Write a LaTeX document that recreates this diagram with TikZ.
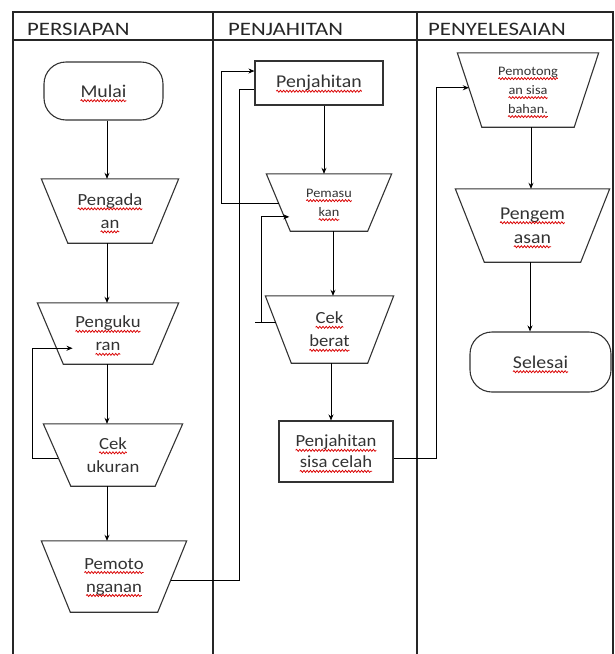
\documentclass[tikz,border=0pt]{standalone}
\usepackage{fontspec}
\setmainfont{Carlito}[FakeStretch=1.1]
\newfontfamily\hdrfont{Carlito}[FakeStretch=1.2]
\usetikzlibrary{calc,arrows.meta,decorations.pathmorphing}
\newsavebox\wvbox
\newcommand\wv[1]{\sbox\wvbox{#1}\tikz[baseline=(wvT.base),x=1pt,y=1pt,sharp corners]{\node[shape=rectangle,inner sep=0pt,outer sep=0pt,minimum width=0pt,minimum height=0pt,draw=none,fill=none,anchor=center] (wvT) {\usebox\wvbox};
  \draw[overlay, red!85!black, line width=0.75pt, sharp corners, decorate, decoration={snake,amplitude=1pt,segment length=3.2pt}] ([yshift=-3.5pt]wvT.base west) -- ([yshift=-3.5pt]wvT.base east);}}
\tikzset{
  lane/.style={line width=1.1pt, draw=black!85},
  hdr/.style={anchor=base west, font=\hdrfont\fontsize{19}{22}\selectfont, text=black!85, inner sep=0},
  box/.style={inner sep=0, align=center, font=\fontsize{17}{23}\selectfont, text=black!80},
  bigbox/.style={font=\fontsize{18}{24}\selectfont},
  smallbox/.style={font=\fontsize{13}{19}\selectfont},
  shp/.style={draw=black!80, line width=1.1pt},
  arr/.style={draw=black, line width=0.9pt, -{Stealth[length=6pt,width=5pt]}},
  ln/.style={draw=black, line width=0.9pt},
}
% #1 name, #2 x, #3 y, #4 top width, #5 bottom width, #6 height, #7 extra style, #8 text
\newcommand\trapnode[8]{%
  \node[box,#7,minimum width=#4pt,minimum height=#6pt] (#1) at (#2,#3) {#8};
  \coordinate (#1-tl) at (#1.north west);
  \coordinate (#1-tr) at (#1.north east);
  \coordinate (#1-bl) at ([xshift={(#4-#5)/2*1pt}]#1.south west);
  \coordinate (#1-br) at ([xshift={-(#4-#5)/2*1pt}]#1.south east);
  \draw[shp] (#1-tl) -- (#1-tr) -- (#1-br) -- (#1-bl) -- cycle;
}
\begin{document}
\begin{tikzpicture}[x=1pt,y=-1pt]
\useasboundingbox (0,0) rectangle (615,654);
% swimlane frame
\draw[lane] (13,654) -- (13,12) -- (613,12) -- (613,654);
\draw[lane] (13,40) -- (613,40);
\draw[lane] (213,12) -- (213,654);
\draw[lane] (417,12) -- (417,654);
\node[hdr] (h1) at (27,35) {PERSIAPAN};
\node[hdr] (h2) at (228,35) {PENJAHITAN};
\node[hdr] (h3) at (428,35) {PENYELESAIAN};

% column 1
\node[box, bigbox, shp, draw, rounded corners=22pt, minimum width=119pt, minimum height=58pt] (mulai) at (103.5,91) {\wv{Mulai}};
\trapnode{pg}{110}{211}{137}{84}{64}{}{\wv{Pengada}\\\wv{an}}
\trapnode{pk}{108}{333.5}{141}{89}{61}{}{\wv{Penguku}\\\wv{ran}}
\trapnode{cu}{113}{455}{139}{84}{62}{}{\wv{Cek}\\ukuran}
\trapnode{pt}{114}{576.5}{145}{87}{71}{}{\wv{Pemoto}\\\wv{nganan}}

% column 2
\node[box, bigbox, shp, draw, minimum width=128pt, minimum height=44pt] (pj) at (319,83) {\wv{Penjahitan}};
\trapnode{ps}{329}{202.5}{125}{77}{57}{smallbox}{\wv{Pemasu}\\\wv{kan}}
\trapnode{cb}{329.5}{329.5}{128}{76}{67}{}{\wv{Cek}\\\wv{berat}}
\node[box, shp, draw, font=\fontsize{17}{21}\selectfont, minimum width=114pt, minimum height=61pt] (pjs) at (336,451.5) {\wv{Penjahitan}\\\wv{sisa celah}};

% column 3
\trapnode{ms}{528}{90}{141}{92}{74}{smallbox}{\wv{Pemotong}\\\wv{an sisa}\\\wv{bahan.}}
\trapnode{pe}{532.5}{225.5}{154}{96}{73}{bigbox}{\wv{Pengem}\\\wv{asan}}
\node[box, bigbox, shp, draw, rounded corners=22pt, minimum width=141pt, minimum height=60pt] (sl) at (540.5,362) {\wv{Selesai}};

% column 1 connectors
\coordinate (c1) at (107,0);
\draw[arr] (mulai.south -| c1) -- (pg.north -| c1);
\draw[arr] (pg.south -| c1) -- (pk.north -| c1);
\draw[arr] (pk.south -| c1) -- (cu.north -| c1);
\draw[arr] (cu.south -| c1) -- (pt.north -| c1);
\coordinate (cuL) at ($(cu-tl)!0.55!(cu-bl)$);
\coordinate (pkL) at ($(pk-tl)!0.74!(pk-bl)$);
\coordinate (fa) at (32,0);
\draw[arr] (cuL) -| (fa |- pkL) -- ([xshift=16pt]pkL);

% column 1 -> column 2
\coordinate (ptR) at ($(pt-tr)!0.55!(pt-br)$);
\coordinate (pjB) at ([yshift=-6pt]pj.west);
\coordinate (pjA) at ([yshift=12pt]pj.west);
\coordinate (fb) at (239,0);
\draw[ln] (ptR) -| (fb |- pjB) -- (pjB);

% column 2 connectors
\draw[arr] ([xshift=5pt]pj.south) -- ([xshift=5pt]pj.south |- ps.north);
\draw[arr] ([xshift=4pt]ps.south) -- ([xshift=4pt]ps.south |- cb.north);
\draw[arr] ([xshift=1.5pt]cb.south) -- ([xshift=1.5pt]cb.south |- pjs.north);
\coordinate (psL) at ($(ps-tl)!0.51!(ps-bl)$);
\coordinate (fc) at (221,0);
\draw[arr] (psL) -| (fc |- pjA) -- (pjA);
\coordinate (cbL) at ($(cb-tl)!0.40!(cb-bl)$);
\coordinate (psL2) at ($(ps-tl)!0.75!(ps-bl)$);
\coordinate (fd) at (261,0);
\draw[ln] (cbL) -- ([xshift=-6pt]fd |- cbL);
\draw[arr] (cbL) -| (fd |- psL2) -- ([xshift=5pt]psL2);

% column 2 -> column 3
\coordinate (pjsR) at ([yshift=-6.5pt]pjs.east);
\coordinate (msL) at ($(ms-tl)!0.47!(ms-bl)$);
\coordinate (fe) at (436,0);
\draw[arr] (pjsR) -| (fe |- msL) -- (msL);

% column 3 connectors
\draw[arr] ([xshift=3pt]ms.south) -- ([xshift=3pt]ms.south |- pe.north);
\draw[arr] ([xshift=-2.5pt]pe.south) -- ([xshift=-2.5pt]pe.south |- sl.north);
\end{tikzpicture}
\end{document}
